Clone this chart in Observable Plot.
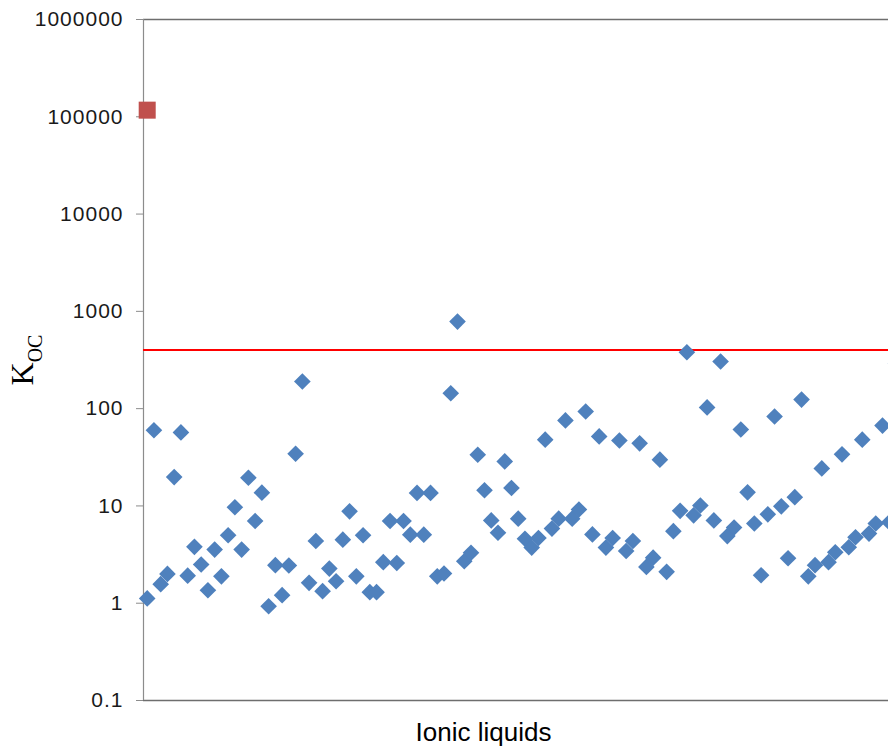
<!DOCTYPE html>
<html><head><meta charset="utf-8">
<script src="https://cdn.jsdelivr.net/npm/d3@7"></script>
<script src="https://cdn.jsdelivr.net/npm/@observablehq/plot@0.6"></script>
<style>body{margin:0;background:#fff} #chart{width:888px;height:746px}</style>
</head><body><div id="chart"></div>
<script>
// Koc values of the ionic liquids (blue diamonds), in order
const koc = [
  1.12, 60, 1.57, 2.0, 19.8, 57, 1.92, 3.8, 2.5, 1.36,
  3.56, 1.89, 5.0, 9.7, 3.56, 19.5, 7.0, 13.7, 0.93, 2.46,
  1.21, 2.44, 34.4, 190, 1.62, 4.36, 1.33, 2.27, 1.68, 4.5,
  8.8, 1.89, 5.0, 1.3, 1.3, 2.64, 7.0, 2.59, 7.0, 5.07,
  13.6, 5.07, 13.6, 1.89, 2.02, 144, 785, 2.7, 3.3, 33.6,
  14.5, 7.1, 5.3, 28.7, 15.3, 7.4, 4.6, 3.73, 4.68, 48,
  5.85, 7.4, 75.7, 7.4, 9.2, 93.5, 5.1, 51.8, 3.73, 4.68,
  47, 3.44, 4.36, 44, 2.36, 2.94, 29.9, 2.1, 5.5, 8.9,
  380, 8.0, 10.1, 103, 7.1, 305, 4.9, 6.0, 61, 13.8,
  6.6, 1.94, 8.2, 83, 9.9, 2.9, 12.3, 124, 1.89, 2.46,
  24.3, 2.64, 3.34, 33.9, 3.76, 4.76, 48, 5.2, 6.6, 67,
  6.8, 290
];
// Reference compound (red square)
const referenceKoc = [117000];
// Threshold line
const threshold = [400];
// Axis ticks and labels
const yTicks = [0.1, 1, 10, 100, 1000, 10000, 100000, 1000000];
const xLabel = "Ionic liquids";
const yLabelMain = "K";
const yLabelSub = "OC";

const ils = koc.map((v, i) => ({i: i + 1, koc: v}));
const refs = referenceKoc.map((v, i) => ({i: i + 1, koc: v}));

const chart = Plot.plot({
  width: 888, height: 746,
  marginLeft: 143, marginRight: 0, marginTop: 19, marginBottom: 46,
  style: {fontFamily: "'Liberation Sans', Arial, sans-serif", background: "white"},
  x: {domain: [0.4515, 110.89], axis: null},
  y: {type: "log", domain: [0.1, 1e6]},
  marks: [
    Plot.ruleY([1e6], {stroke: "#6e6e6e", strokeWidth: 1.5}),
    Plot.ruleY([0.1], {stroke: "#6e6e6e", strokeWidth: 1.5}),
    Plot.ruleX([0.4515], {stroke: "#8c8c8c", strokeWidth: 1.2}),
    Plot.axisY({ticks: yTicks, tickFormat: d => String(d), tickSize: 7, tickPadding: 13,
      fontSize: 21, label: null, stroke: "#8c8c8c", fill: "#1a1a1a"}),
    Plot.ruleY(threshold, {stroke: "#ff0000", strokeWidth: 2}),
    Plot.dot(ils, {x: "i", y: "koc", symbol: "diamond2", r: 7.5, fill: "#4f81bd"}),
    Plot.dot(refs, {x: "i", y: "koc", symbol: "square", r: 9.6, fill: "#c0504d"})
  ]
});

const svg = d3.select(chart);
svg.selectAll('g[aria-label="y-axis tick label"] text').style("letter-spacing", "1px");

svg.append("text")
  .attr("x", 483.5).attr("y", 741)
  .attr("text-anchor", "middle")
  .attr("font-size", 26)
  .attr("font-family", "'Liberation Sans', Arial, sans-serif")
  .attr("fill", "#000")
  .text(xLabel);

const t = svg.append("text")
  .attr("transform", "translate(33,360) rotate(-90)")
  .attr("text-anchor", "middle")
  .attr("font-family", "'Liberation Serif', 'Times New Roman', serif")
  .attr("fill", "#000");
t.append("tspan").attr("font-size", 32).text(yLabelMain);
t.append("tspan").attr("font-size", 20).attr("dy", 9).text(yLabelSub);

document.getElementById("chart").appendChild(chart);
</script>
</body></html>
